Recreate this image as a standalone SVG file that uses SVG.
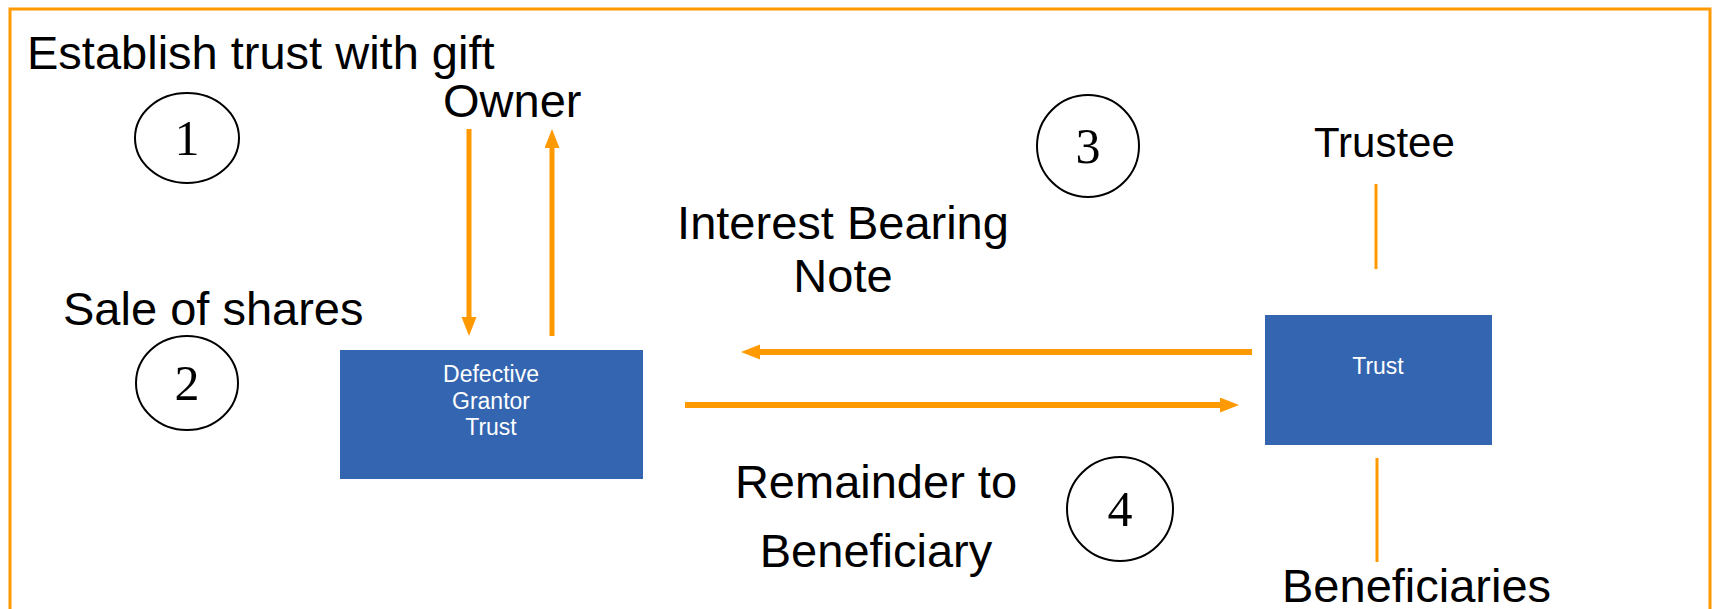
<svg xmlns="http://www.w3.org/2000/svg" width="1713" height="609" viewBox="0 0 1713 609">
<style>
.lbl{font-family:"Liberation Sans",Arial,sans-serif;font-size:47px;fill:#000}
.box{fill:#3465B0}
.boxt{font-family:"Liberation Sans",Arial,sans-serif;font-size:23px;fill:#fff;text-anchor:middle}
.num{font-family:"Liberation Serif","Times New Roman",serif;font-size:50px;fill:#000;text-anchor:middle}
.ring{fill:none;stroke:#000;stroke-width:2}
.arr{fill:none;stroke:#FF9900}
.tick{fill:none;stroke:#FF9900;stroke-width:3}
</style>
<defs>
<marker id="ah" markerUnits="userSpaceOnUse" markerWidth="20" markerHeight="16" refX="0" refY="7.5" orient="auto">
<path d="M0,0 L19,7.5 L0,15 z" fill="#FF9900"/>
</marker>
</defs>
<rect x="10" y="9" width="1700" height="640" fill="none" stroke="#FF9900" stroke-width="3"/>

<g id="label-establish"><text class="lbl" x="27" y="69">Establish trust with gift</text></g>
<g id="owner"><text class="lbl" x="443" y="117">Owner</text></g>
<g id="label-sale"><text class="lbl" x="63" y="325">Sale of shares</text></g>
<g id="label-note"><text class="lbl" x="843" y="239" text-anchor="middle">Interest Bearing</text><text class="lbl" x="843" y="292" text-anchor="middle">Note</text></g>
<g id="label-remainder"><text class="lbl" x="876" y="498" text-anchor="middle">Remainder to</text><text class="lbl" x="876" y="567" text-anchor="middle">Beneficiary</text></g>
<g id="trustee"><text class="lbl" x="1314" y="157" style="font-size:42px">Trustee</text></g>
<g id="beneficiaries"><text class="lbl" x="1282" y="602">Beneficiaries</text></g>

<g id="step1"><ellipse class="ring" cx="187" cy="138" rx="52" ry="45"/><text class="num" x="187" y="155">1</text></g>
<g id="step2"><ellipse class="ring" cx="187" cy="383" rx="51" ry="47"/><text class="num" x="187" y="400">2</text></g>
<g id="step3"><ellipse class="ring" cx="1088" cy="146" rx="51" ry="51"/><text class="num" x="1088" y="163">3</text></g>
<g id="step4"><ellipse class="ring" cx="1120" cy="509" rx="53" ry="52"/><text class="num" x="1120" y="526">4</text></g>

<g id="dgt"><rect class="box" x="340" y="350" width="303" height="129"/>
<text class="boxt" x="491" y="382">Defective</text><text class="boxt" x="491" y="409">Grantor</text><text class="boxt" x="491" y="435">Trust</text></g>
<g id="trust"><rect class="box" x="1265" y="315" width="227" height="130"/><text class="boxt" x="1378" y="374">Trust</text></g>

<g id="connectors">
<path class="arr" stroke-width="5" d="M469,129 L469,317" marker-end="url(#ah)"/>
<path class="arr" stroke-width="5" d="M552,336 L552,148" marker-end="url(#ah)"/>
<path class="arr" stroke-width="6" d="M1252,352 L760,352" marker-end="url(#ah)"/>
<path class="arr" stroke-width="6" d="M685,405 L1220,405" marker-end="url(#ah)"/>
<path class="tick" d="M1376,184 L1376,269"/>
<path class="tick" d="M1377,458 L1377,562"/>
</g>
</svg>
